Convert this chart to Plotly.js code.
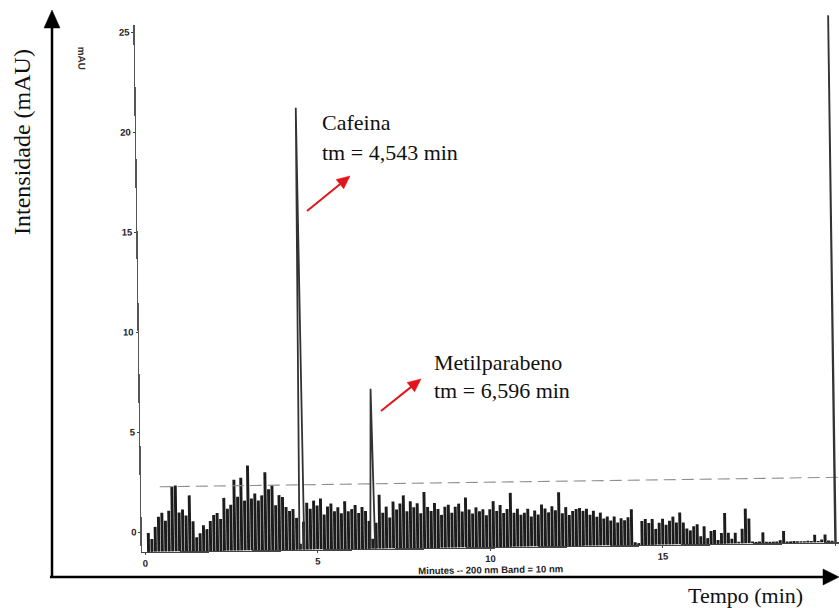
<!DOCTYPE html>
<html>
<head>
<meta charset="utf-8">
<script src="https://cdn.plot.ly/plotly-3.0.1.min.js"></script>
<style>
  html, body { margin: 0; padding: 0; background: #fff; overflow: hidden; }
  #wrap  { position: relative; width: 839px; height: 608px; }
  /* the recorder trace sits slightly askew on the page, as on the printout */
  #trace { position: absolute; left: 0; top: 0; width: 839px; height: 608px;
           transform: rotate(-0.8deg); transform-origin: 145px 552px; }
  #frame { position: absolute; left: 0; top: 0; width: 839px; height: 608px; pointer-events: none; }
</style>
</head>
<body>
<div id="wrap"><div id="trace"></div><div id="frame"></div></div>
<script>
// ---- chromatogram data (time in min, signal in mAU) ----
const noiseStart = 0.1;      // first sampled time
const noiseStep = 0.1;       // sampling interval
const noiseBase = -1.0;      // detector baseline
const noiseTop = [
  -0.05, -0.35, 0.25, 0.75, 0.95, 0.55, 1.05, 2.25, 2.3, 0.95,
  1.1, 0.8, 1.8, 0.5, -0.3, -0.1, 0.3, 0.1, 0.5, 0.8,
  0.9, 0.6, 1.65, 1.1, 1.3, 2.55, 1.7, 2.65, 1.5, 3.25,
  1.6, 1.85, 1.5, 1.75, 2.9, 2.05, 2.25, 1.25, 1.75, 1.65,
  1.15, 0.95, 1.05, 0.6, -0.7, 0.4, 1.35, 1.05, 1.45, 1.2,
  1.55, 0.75, 1.15, 1.3, 0.9, 1.1, 0.8, 1.4, 0.9, 1.0,
  1.2, 0.8, 1.1, 0.9, 0.4, -0.5, 0.3, 1.7, 0.8, 1.1,
  0.55, 1.35, 0.95, 1.25, 1.65, 0.85, 1.35, 1.05, 1.25, 0.75,
  1.8, 1.05, 0.85, 1.25, 0.95, 0.65, 1.05, 1.15, 0.75, 1.05,
  1.2, 0.8, 1.5, 0.9, 0.7, 1.0, 0.8, 0.9, 0.6, 0.9,
  1.3, 0.8, 1.1, 0.7, 0.9, 1.7, 0.7, 0.9, 0.6, 0.7,
  0.9, 0.5, 0.8, 0.6, 1.1, 0.9, 0.7, 1.0, 0.8, 1.7,
  0.65, 0.95, 0.55, 0.75, 0.85, 0.9, 0.75, 0.85, 0.55, 0.75,
  0.45, 0.65, 0.35, 0.45, 0.25, 0.45, 0.15, 0.35, 0.25, 0.4,
  0.8, -0.85, -0.9, 0.2, 0.3, 0.1, 0.3, -0.2, 0.1, 0.3,
  0.0, 0.2, 0.4, 0.1, 0.6, 0.1, -0.2, -0.3, -0.1, 0.0,
  -0.6, -0.1, -0.7, -0.35, -0.3, -0.8, -0.45, 0.55, -0.45, -0.75,
  -0.45, -0.9, -0.25, 0.75, 0.25, -0.9, -0.92, -0.9, -0.45, -0.92,
  -0.92, -0.92, -0.92, -0.85, -0.4, -0.92, -0.92, -0.9, -0.92, -0.92,
  -0.92, -0.9, -0.92, -0.6, -0.92, -0.85, -0.6, -0.9, -0.92
];
const peakNames = ['Cafeina', 'Metilparabeno', ''];
const peakTimes = [4.543, 6.596, 20.0];
const peakHeights = [21.1, 7.0, 27.0];
const refLineTimes = [0.45, 20.1];
const refLineLevel = 2.25;

const xTickVals = [0, 5, 10, 15, 20];
const yTickVals = [0, 5, 10, 15, 20, 25];

// ---- traces ----
const noiseTimes = noiseTop.map((_, i) => +(noiseStart + i * noiseStep).toFixed(2));

const noiseTrace = {
  type: 'bar', x: noiseTimes, y: noiseTop.map(v => v - noiseBase), base: noiseBase,
  width: 0.085, marker: { color: '#1c1c1c', line: { width: 0 } }, hoverinfo: 'skip'
};

const refTrace = {
  type: 'scatter', mode: 'lines', x: refLineTimes, y: refLineTimes.map(() => refLineLevel),
  line: { color: '#8f8f8f', width: 1.1, dash: '12px,6px' }, hoverinfo: 'skip'
};

const peakX = [], peakY = [];
const halfBase = 0.07;
peakTimes.forEach((t, i) => {
  const hw = i === peakTimes.length - 1 ? 0.01 : halfBase;
  peakX.push(t - hw, t, t + hw, null);
  peakY.push(noiseBase, peakHeights[i], noiseBase, null);
});
const peakTrace = {
  type: 'scatter', mode: 'lines', x: peakX, y: peakY,
  line: { color: '#333', width: 1.8 }, hoverinfo: 'skip'
};

const tickFont = { family: 'Liberation Sans, Arial, sans-serif', size: 9.5, weight: 'bold', color: '#222' };

const traceLayout = {
  width: 839, height: 608,
  margin: { l: 142, r: 0, t: 25, b: 56 },
  paper_bgcolor: 'rgba(0,0,0,0)', plot_bgcolor: 'rgba(0,0,0,0)',
  showlegend: false,
  xaxis: {
    range: [-0.09, 20.1], tickvals: xTickVals, ticktext: xTickVals.map(String),
    showgrid: false, zeroline: false, showline: true, linecolor: '#444', linewidth: 1.4,
    ticks: 'outside', ticklen: 2, tickcolor: '#444', tickfont: tickFont
  },
  yaxis: {
    range: [noiseBase, 25.35], tickvals: yTickVals, ticktext: yTickVals.map(String),
    showgrid: false, zeroline: false, showline: true, linecolor: '#555', linewidth: 1.4,
    ticks: 'outside', ticklen: 2, tickcolor: '#444', tickfont: tickFont
  },
  annotations: [
    { xref: 'x', yref: 'paper', x: 10, y: -0.03, yanchor: 'top', showarrow: false, borderpad: 0,
      text: 'Minutes -- 200 nm Band = 10 nm',
      font: { family: 'Liberation Sans, Arial, sans-serif', size: 9.5, weight: 'bold', color: '#222' } },
    { xref: 'paper', yref: 'paper', x: -0.088, y: 0.965, textangle: 90, showarrow: false,
      text: 'mAU', font: { family: 'Liberation Sans, Arial, sans-serif', size: 10, weight: 'bold', color: '#333' } }
  ]
};

Plotly.newPlot('trace', [noiseTrace, refTrace, peakTrace], traceLayout, { staticPlot: true });

// ---- outer axes, titles and peak labels drawn on top, page pixels ----
const W = 839, H = 608;
const px = x => x / W;
const py = y => 1 - y / H;

function arrowShapes(tail, head, color, width, len, half) {
  const dx = head[0] - tail[0], dy = head[1] - tail[1];
  const d = Math.hypot(dx, dy), ux = dx / d, uy = dy / d;
  const bx = head[0] - ux * len, by = head[1] - uy * len;
  const c1 = [bx - uy * half, by + ux * half], c2 = [bx + uy * half, by - ux * half];
  return [
    { type: 'line', xref: 'paper', yref: 'paper', x0: px(tail[0]), y0: py(tail[1]),
      x1: px(bx + ux * 2), y1: py(by + uy * 2), line: { color: color, width: width } },
    { type: 'path', xref: 'paper', yref: 'paper', fillcolor: color, line: { color: color, width: 0.5 },
      path: `M ${px(head[0])},${py(head[1])} L ${px(c1[0])},${py(c1[1])} L ${px(c2[0])},${py(c2[1])} Z` }
  ];
}

const red = '#e3151c';
const shapes = [].concat(
  arrowShapes([52, 577], [52, 10], '#000', 2.5, 18, 8),
  arrowShapes([50, 577], [839, 577], '#000', 2.5, 16, 8),
  arrowShapes([307, 211], [350, 176], red, 2, 13, 6),
  arrowShapes([381, 411], [421, 379], red, 2, 13, 6)
);

const serif = 'Liberation Serif, Times New Roman, serif';
const label = (x, y, text, size, angle) => ({
  xref: 'paper', yref: 'paper', x: px(x), y: py(y), xanchor: angle ? 'center' : 'left', yanchor: 'middle',
  showarrow: false, text: text, textangle: angle || 0, font: { family: serif, size: size, color: '#111' }
});

const annotations = [
  label(320, 123, peakNames[0], 22),
  label(320, 152, 'tm = 4,543 min', 22),
  label(432, 362, peakNames[1], 22),
  label(432, 390, 'tm = 6,596 min', 22),
  label(22, 142, 'Intensidade (mAU)', 24, -90),
  Object.assign(label(745, 595, 'Tempo (min)', 22), { xanchor: 'center' })
];

Plotly.newPlot('frame', [], {
  width: W, height: H, margin: { l: 0, r: 0, t: 0, b: 0 },
  paper_bgcolor: 'rgba(0,0,0,0)', plot_bgcolor: 'rgba(0,0,0,0)',
  xaxis: { visible: false }, yaxis: { visible: false },
  shapes: shapes, annotations: annotations
}, { staticPlot: true });
</script>
</body>
</html>
